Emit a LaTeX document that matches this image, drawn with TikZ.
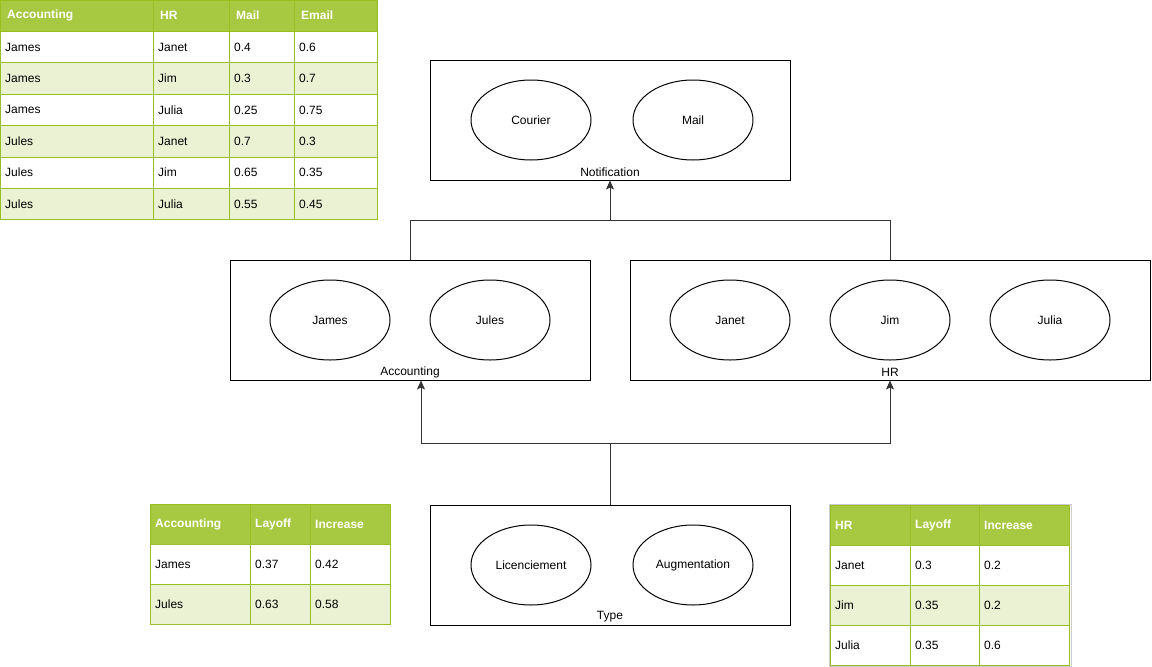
\documentclass[tikz,border=0pt]{standalone}
\usepackage{fontspec}
\setmainfont{Liberation Sans}
\usetikzlibrary{positioning,shapes.geometric,arrows.meta}

\definecolor{hdrgreen}{HTML}{A7C942}
\definecolor{rowgreen}{HTML}{EAF2D3}
\definecolor{linegreen}{HTML}{98BF21}
\definecolor{wiregray}{HTML}{333333}

\tikzset{
  grp/.style={draw, line width=1pt, minimum width=360pt, minimum height=120pt, inner sep=0pt},
  val/.style={draw, ellipse, line width=1pt, minimum width=120pt, minimum height=80pt, inner sep=0pt},
  lbl/.style={inner sep=0pt},
  wire/.style={draw=wiregray, line width=1pt},
  tip/.style={-{Stealth[length=9pt, width=8pt, inset=2pt]}},
  cell/.style={anchor=west, inner sep=0pt},
  hcell/.style={cell, text=white, font=\fontsize{12}{14}\selectfont\bfseries},
  grid/.style={draw=linegreen, line width=1pt}
}

\begin{document}
\begin{tikzpicture}[x=1pt, y=-1pt, font=\fontsize{12}{14}\selectfont]
\useasboundingbox (0,0) rectangle (1152,667);

% groups with their values
\node[grp] (notif) at (610,120) {};
\node[val] (courier) at (531,120) {Courier};
\node[val] (mail) at (693,120) {Mail};
\node[lbl] (notif-lbl) at ([yshift=8.5pt]notif.south) {Notification};

\node[grp] (acc) at (410,320) {};
\node[val] (james) at (330,320) {James};
\node[val] (jules) at (490,320) {Jules};
\node[lbl] (acc-lbl) at ([yshift=8.5pt]acc.south) {Accounting};

\node[grp, minimum width=520pt] (hr) at (890,320) {};
\node[val] (janet) at (730,320) {Janet};
\node[val] (jim) at (890,320) {Jim};
\node[val] (julia) at (1050,320) {Julia};
\node[lbl] (hr-lbl) at ([yshift=8.5pt]hr.south) {HR};

\node[grp] (type) at (610,565) {};
\node[val] (layoff) at (531,565) {Licenciement};
\node[val] (raise) at (693,565) {Augmentation};
\node[lbl] (type-lbl) at ([yshift=8.5pt]type.south) {Type};

% connectors
\coordinate (upjoin) at (610,220.5);
\coordinate (downjoin) at (610,443.5);
\draw[wire] (acc.north) |- (upjoin) -| (hr.north);
\draw[wire, tip] (upjoin) -- (notif.south);
\draw[wire] (type.north) -- (downjoin);
\draw[wire, tip] (downjoin) -| ([xshift=11pt]acc.south);
\draw[wire, tip] (downjoin) -| (hr.south);

% table: notification probabilities
\fill[hdrgreen] (0,0) rectangle (378,31.4);
\foreach \r in {2,4,6}
  \fill[rowgreen] (0,{\r*31.4}) rectangle (378,{(\r+1)*31.4});
\foreach \c/\h [count=\i] in {0/Accounting,153/HR,229/Mail,294/Email}
  \node[hcell] (tn-h\i) at (\c+7,15.7) {\h};
\foreach \a/\b/\m/\e [count=\r] in {James/Janet/0.4/0.6, James/Jim/0.3/0.7, James/Julia/0.25/0.75,
    Jules/Janet/0.7/0.3, Jules/Jim/0.65/0.35, Jules/Julia/0.55/0.45} {
  \node[cell] (tn-\r a) at (5,{(\r+0.5)*31.4}) {\a};
  \node[cell] (tn-\r b) at (158,{(\r+0.5)*31.4}) {\b};
  \node[cell] (tn-\r c) at (234,{(\r+0.5)*31.4}) {\m};
  \node[cell] (tn-\r d) at (299,{(\r+0.5)*31.4}) {\e};
}
\foreach \r in {1,...,6}
  \draw[grid] (0,{\r*31.4}) -- (378,{\r*31.4});
\foreach \c in {153,229,294}
  \draw[grid] (\c,0) -- (\c,219.8);
\draw[grid] (0.5,0.5) rectangle (377.5,219.8);

% table: accounting
\fill[hdrgreen] (150,504) rectangle (390,544);
\fill[rowgreen] (150,584) rectangle (390,624);
\foreach \c/\h [count=\i] in {150/Accounting,250/Layoff,310/Increase}
  \node[hcell] (ta-h\i) at (\c+5,524) {\h};
\foreach \a/\l/\n [count=\r] in {James/0.37/0.42, Jules/0.63/0.58} {
  \node[cell] (ta-\r a) at (155,{524+\r*40}) {\a};
  \node[cell] (ta-\r b) at (255,{524+\r*40}) {\l};
  \node[cell] (ta-\r c) at (315,{524+\r*40}) {\n};
}
\foreach \y in {544,584}
  \draw[grid] (150,\y) -- (390,\y);
\foreach \c in {250,310}
  \draw[grid] (\c,504) -- (\c,624);
\draw[grid] (150,504) rectangle (390,624);

% table: hr
\draw[black!20, line width=1pt] (829,504) rectangle (1071,666);
\fill[hdrgreen] (830,505) rectangle (1069,545);
\fill[rowgreen] (830,585) rectangle (1069,625);
\foreach \c/\h [count=\i] in {830/HR,910/Layoff,979/Increase}
  \node[hcell] (th-h\i) at (\c+5,525) {\h};
\foreach \a/\l/\n [count=\r] in {Janet/0.3/0.2, Jim/0.35/0.2, Julia/0.35/0.6} {
  \node[cell] (th-\r a) at (835,{525+\r*40}) {\a};
  \node[cell] (th-\r b) at (915,{525+\r*40}) {\l};
  \node[cell] (th-\r c) at (984,{525+\r*40}) {\n};
}
\foreach \y in {545,585,625}
  \draw[grid] (830,\y) -- (1069,\y);
\foreach \c in {910,979}
  \draw[grid] (\c,505) -- (\c,665);
\draw[grid] (830,505) rectangle (1069,665);
\end{tikzpicture}
\end{document}
